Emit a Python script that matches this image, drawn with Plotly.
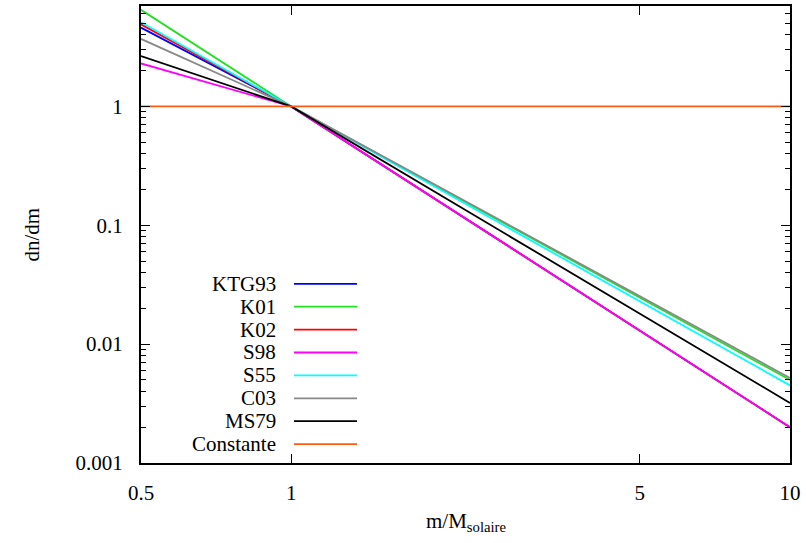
import plotly.graph_objects as go

# ---- data ----
mass = [0.5, 1, 10]
series_names = ["KTG93", "K01", "K02", "S98", "S55", "C03", "MS79", "Constante"]
ktg93 = [4.6, 1, 0.002]
k01 = [6.5, 1, 0.005]
k02 = [4.9, 1, 0.002]
s98 = [2.3, 1, 0.002]
s55 = [5.1, 1, 0.0045]
c03 = [3.7, 1, 0.0052]
ms79 = [2.65, 1, 0.0032]
constante = [1, 1, 1]
series_values = [ktg93, k01, k02, s98, s55, c03, ms79, constante]
colors = ["#0000ff", "#22e022", "#ff0000", "#ff00ff", "#00ffff", "#888888", "#000000", "#ff5a10"]

x_ticks = [0.5, 1, 5, 10]
x_ticktext = ["0.5", "1", "5", "10"]
y_ticks = [0.001, 0.01, 0.1, 1]
y_ticktext = ["0.001", "0.01", "0.1", "1"]

FONT = "'Liberation Serif', 'Times New Roman', Times, serif"
FS = 21

W, H = 806, 543
L, R, T, B = 141, 790, 4, 463

fig = go.Figure()
for name, vals, col in zip(series_names, series_values, colors):
    fig.add_trace(go.Scatter(x=mass, y=vals, mode="lines", name=name,
                             line=dict(color=col, width=1.8), showlegend=False))

def px2paper(xp, yp):
    return (xp - L) / (R - L), (B - yp) / (B - T)

# gnuplot-style legend: right-aligned text, sample line on right
for i, (name, col) in enumerate(zip(series_names, colors)):
    yp = 283 + 23 * i
    tx, ty = px2paper(278, yp)
    fig.add_annotation(x=tx, y=ty, xref="paper", yref="paper", text=name,
                       showarrow=False, xanchor="right", yanchor="middle",
                       font=dict(family=FONT, size=FS, color="black"))
    x0, y0 = px2paper(294, yp)
    x1, _ = px2paper(357, yp)
    fig.add_shape(type="line", xref="paper", yref="paper", x0=x0, x1=x1, y0=y0, y1=y0,
                  line=dict(color=col, width=1.8))

# axis titles
tx, ty = px2paper((L + R) / 2, 522)
fig.add_annotation(x=tx, y=ty, xref="paper", yref="paper", text="m/M<sub>solaire</sub>",
                   showarrow=False, xanchor="center", yanchor="middle",
                   font=dict(family=FONT, size=FS, color="black"))
tx, ty = px2paper(31, (T + B) / 2)
fig.add_annotation(x=tx, y=ty, xref="paper", yref="paper", text="dn/dm", textangle=-90,
                   showarrow=False, xanchor="center", yanchor="middle",
                   font=dict(family=FONT, size=FS, color="black"))

fig.update_xaxes(type="log", range=[-0.30103, 1.0], tickvals=x_ticks, ticktext=x_ticktext,
                 ticks="inside", ticklen=9, tickwidth=1.2, tickcolor="black",
                 showline=True, linecolor="black", linewidth=2, mirror="ticks",
                 showgrid=False, zeroline=False, ticklabelstandoff=10,
                 tickfont=dict(family=FONT, size=FS, color="black"))
fig.update_yaxes(type="log", range=[-3, 0.845], tickvals=y_ticks, ticktext=y_ticktext,
                 ticks="inside", ticklen=9, tickwidth=1.2, tickcolor="black",
                 showline=True, linecolor="black", linewidth=2, mirror="ticks",
                 showgrid=False, zeroline=False, ticklabelstandoff=12,
                 minor=dict(ticks="inside", ticklen=5, tickwidth=1.2, tickcolor="black",
                            dtick="D1", showgrid=False),
                 tickfont=dict(family=FONT, size=FS, color="black"))

fig.update_layout(width=W, height=H, margin=dict(l=L, r=W - R, t=T, b=H - B),
                  plot_bgcolor="white", paper_bgcolor="white", showlegend=False,
                  font=dict(family=FONT, size=FS, color="black"))

fig.write_html("out.html")
